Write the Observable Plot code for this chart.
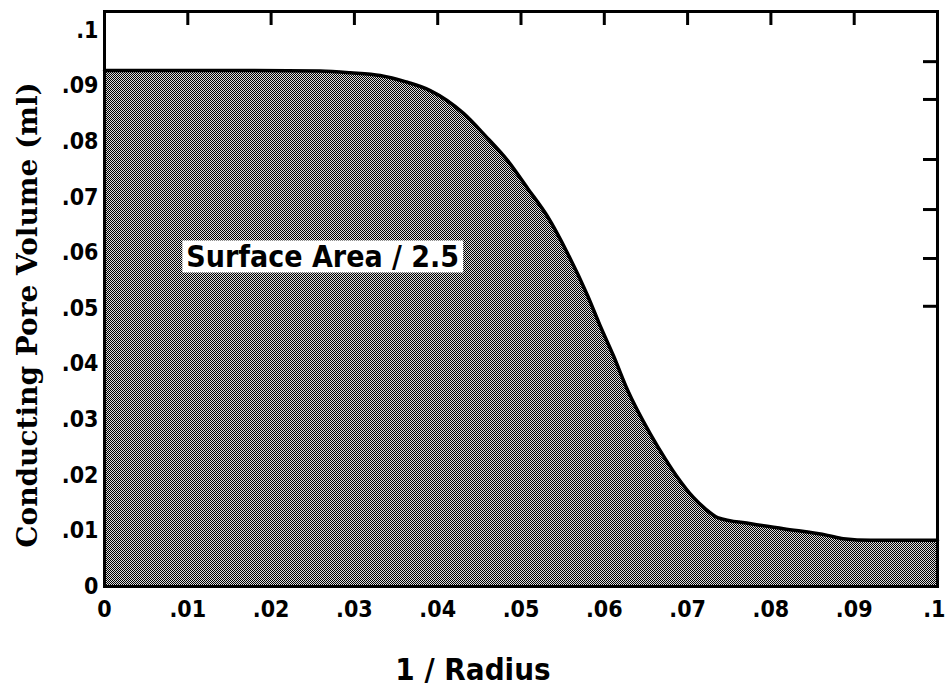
<!DOCTYPE html>
<html>
<head>
<meta charset="utf-8">
<script src="https://cdn.jsdelivr.net/npm/d3@7"></script>
<script src="https://cdn.jsdelivr.net/npm/@observablehq/plot@0.6"></script>
<style>
  html, body { margin: 0; padding: 0; background: #fff; overflow: hidden; }
  #chart svg { display: block; }
</style>
</head>
<body>
<div id="chart"></div>
<script>
// ---- data ----
const invRadius = [0, 0.0175, 0.0259, 0.0295, 0.0331, 0.0361, 0.0391, 0.0431, 0.0457, 0.0484,
  0.0508, 0.0532, 0.0556, 0.0580, 0.0595, 0.0611, 0.0628, 0.0655, 0.0673, 0.0688,
  0.0707, 0.0721, 0.0736, 0.0776, 0.0815, 0.0868, 0.0887, 0.0920, 0.1];
const poreVolume = [0.0928, 0.0928, 0.0927, 0.0924, 0.0919, 0.0908, 0.0892, 0.0851, 0.0811, 0.0766,
  0.0716, 0.0665, 0.0599, 0.0523, 0.0469, 0.0415, 0.0353, 0.0275, 0.0230, 0.0196,
  0.0160, 0.0140, 0.0124, 0.0113, 0.0104, 0.0092, 0.0086, 0.0083, 0.0083];

const xTicks = [0, 0.01, 0.02, 0.03, 0.04, 0.05, 0.06, 0.07, 0.08, 0.09, 0.1];
const yTicks = [0, 0.01, 0.02, 0.03, 0.04, 0.05, 0.06, 0.07, 0.08, 0.09, 0.1];
const topTicks = [0.01, 0.02, 0.03, 0.04, 0.05, 0.06, 0.07, 0.08, 0.09];
const rightTicks = [0.0944, 0.0876, 0.0768, 0.0678, 0.0590, 0.0504];

const xTitle = "1 / Radius";
const yTitle = "Conducting Pore Volume (ml)";
const noteText = "Surface Area / 2.5";
const noteX = 0.0262;
const noteY = 0.0592;

// ---- build ----
const curve = invRadius.map((x, i) => ({x, y: poreVolume[i]}));
const fmt = d => d === 0 ? "0" : String(+d.toFixed(3)).replace(/^0\./, ".");
const narrow = "'Liberation Sans Narrow', 'DejaVu Sans Condensed', 'Liberation Sans', sans-serif";
const slab = "'DejaVu Serif', 'Liberation Serif', serif";

const W = 945, H = 689;
const mL = 104, mR = 8, mT = 11, mB = 103;
const plotW = W - mL - mR, plotH = H - mT - mB;
const xMax = xTicks[xTicks.length - 1];

const chart = Plot.plot({
  width: W,
  height: H,
  marginLeft: mL,
  marginRight: mR,
  marginTop: mT,
  marginBottom: mB,
  style: {background: "#fff", color: "#000", fontFamily: narrow},
  x: {domain: [0, 0.1], label: null},
  y: {domain: [0, 0.10342], label: null},
  marks: [
    Plot.areaY(curve, {x: "x", y: "y", fill: "url(#halftone)", curve: "monotone-x"}),
    Plot.lineY(curve, {x: "x", y: "y", stroke: "#000", strokeWidth: 3.5, curve: "monotone-x"}),
    Plot.frame({stroke: "#000", strokeWidth: 3}),
    Plot.ruleX(topTicks, {x: d => d, stroke: "#000", strokeWidth: 3, insetBottom: plotH - 14}),
    Plot.ruleY(rightTicks, {y: d => d, stroke: "#000", strokeWidth: 3, insetLeft: plotW - 14}),
    Plot.axisY(yTicks, {tickSize: 0, tickPadding: 6, tickFormat: fmt, fontSize: 23,
      fontWeight: "bold", fontFamily: narrow, label: null}),
    Plot.axisX(xTicks.filter(d => d < xMax), {tickSize: 0, tickPadding: 14, tickFormat: fmt, fontSize: 23,
      fontWeight: "bold", fontFamily: narrow, label: null}),
    Plot.text([xMax], {x: d => d, text: fmt, frameAnchor: "bottom", textAnchor: "end", lineAnchor: "top",
      dx: 8, dy: 14, fontSize: 23, fontWeight: "bold", fontFamily: narrow, fill: "#000"}),
    Plot.text([xTitle], {text: d => d, frameAnchor: "bottom", textAnchor: "middle", dx: -48, dy: 93,
      fontSize: 31, fontWeight: "bold", fontFamily: narrow, fill: "#000"}),
    Plot.text([yTitle], {text: d => d, frameAnchor: "left", textAnchor: "middle", rotate: -90, dx: -76, dy: 16,
      fontSize: 28, fontWeight: "bold", fontFamily: slab, fill: "#000"}),
    Plot.text([noteText], {text: d => d, x: () => noteX, y: () => noteY,
      fontSize: 30, fontWeight: "bold", fontFamily: narrow, fill: "#000"})
  ]
});

document.getElementById("chart").appendChild(chart);

// halftone pattern used by the area fill
const svg = d3.select(chart);
const defs = svg.insert("defs", ":first-child");
const pat = defs.append("pattern").attr("id", "halftone")
  .attr("patternUnits", "userSpaceOnUse").attr("width", 2).attr("height", 2);
pat.append("rect").attr("width", 2).attr("height", 2).attr("fill", "#dcdcdc");
pat.append("rect").attr("x", 0).attr("y", 0).attr("width", 1).attr("height", 1).attr("fill", "#000");
pat.append("rect").attr("x", 1).attr("y", 1).attr("width", 1).attr("height", 1).attr("fill", "#000");

// white box behind the annotation
svg.selectAll("text").filter(function() { return this.textContent === noteText; }).each(function() {
  const node = this;
  const b = node.getBBox();
  const cy = b.y + b.height / 2;
  d3.select(node.parentNode).insert("rect", () => node)
    .attr("x", b.x - 4).attr("y", cy - 16)
    .attr("width", b.width + 8).attr("height", 32)
    .attr("fill", "#fff")
    .attr("transform", node.getAttribute("transform"));
});
</script>
</body>
</html>
